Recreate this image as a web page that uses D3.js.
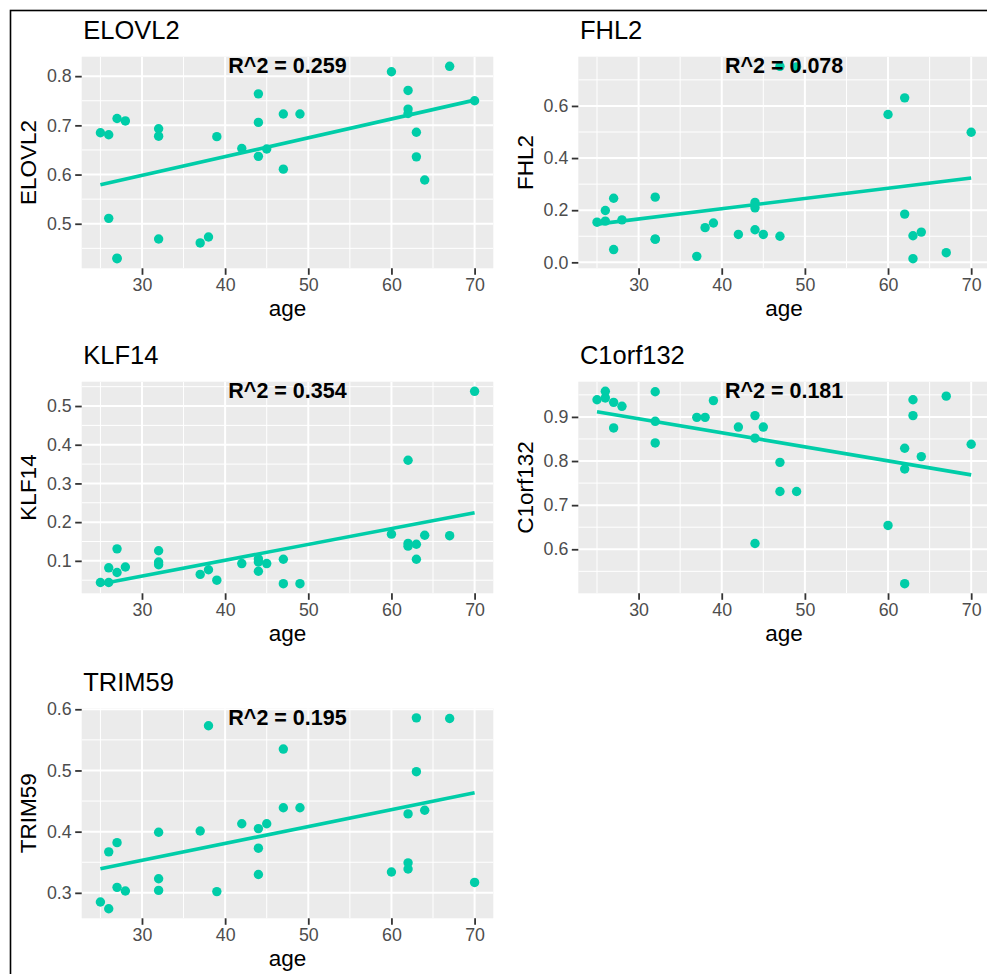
<!DOCTYPE html>
<html>
<head>
<meta charset="utf-8">
<script src="https://cdn.jsdelivr.net/npm/d3@7"></script>
<style>
  html, body { margin: 0; padding: 0; background: #fff; }
  svg { display: block; }
  text { font-family: "Liberation Sans", Arial, sans-serif; }
</style>
</head>
<body>
<script>
// ---------- data (null = no value for that sample) ----------
const age = [25,26,26,27,27,28,32,32,32,37,38,39,42,44,44,44,45,47,47,49,60,62,62,62,63,63,64,67,70,27];

const ELOVL2 = [0.685,0.681,0.511,0.714,0.429,0.709,0.693,0.678,0.469,0.461,0.473,0.677,0.653,0.764,0.706,0.637,0.652,0.723,0.611,0.723,0.809,0.771,0.733,0.724,0.686,0.636,0.589,0.820,0.750,0.430];
const FHL2 = [0.154,0.199,0.158,0.246,0.049,0.163,0.250,0.089,0.089,0.023,0.133,0.151,0.107,0.230,0.209,0.125,0.107,0.100,0.752,0.750,0.567,0.631,0.185,null,0.102,0.014,0.116,0.037,0.499,null];
const KLF14 = [0.044,0.082,0.044,0.131,0.070,0.084,0.126,0.097,0.090,0.065,0.077,0.050,0.093,0.105,0.097,0.073,0.093,0.104,0.041,0.041,0.169,0.360,0.145,0.138,0.143,0.104,0.166,0.165,0.538,null];
const C1orf132 = [0.939,0.958,0.943,0.933,0.875,0.924,0.957,0.890,0.841,0.899,0.899,0.937,0.877,0.903,0.852,0.613,0.877,0.797,0.731,0.731,0.654,0.829,0.782,0.522,0.939,0.903,0.810,0.947,0.838,null];
const TRIM59 = [0.285,0.367,0.274,0.382,0.309,0.303,0.399,0.323,0.304,0.401,0.573,0.302,0.413,0.405,0.373,0.330,0.413,0.535,0.439,0.439,0.334,0.429,0.349,0.339,0.586,0.498,0.435,0.585,0.317,null];

const genes = ["ELOVL2","FHL2","KLF14","C1orf132","TRIM59"];
const r2Labels = ["R^2 = 0.259","R^2 = 0.078","R^2 = 0.354","R^2 = 0.181","R^2 = 0.195"];
const xTicks = [30,40,50,60,70];
const yTicksELOVL2 = [0.5,0.6,0.7,0.8];
const yTicksFHL2 = [0.0,0.2,0.4,0.6];
const yTicksKLF14 = [0.1,0.2,0.3,0.4,0.5];
const yTicksC1orf132 = [0.6,0.7,0.8,0.9];
const yTicksTRIM59 = [0.3,0.4,0.5,0.6];

const values = [ELOVL2, FHL2, KLF14, C1orf132, TRIM59];
const yTicks = [yTicksELOVL2, yTicksFHL2, yTicksKLF14, yTicksC1orf132, yTicksTRIM59];

// ---------- layout ----------
const W = 987, H = 974;
const colLeft = [81.7, 578.3];
const rowTop = [56.7, 381.7, 708.3];
const rowH = [211.6, 211.6, 210];
const plotW = 411.6;
const teal = "#00CDA8";

const svg = d3.select("body").append("svg").attr("width", W).attr("height", H);
svg.append("rect").attr("width", W).attr("height", H).attr("fill", "#fff");

function expand(ext) { const d = ext[1]-ext[0]; return [ext[0]-0.05*d, ext[1]+0.05*d]; }

function minorBreaks(major, dom) {
  const step = major[1]-major[0];
  const out = [];
  for (let v = major[0]-step/2; v <= dom[1]+1e-9; v += step) {
    if (v >= dom[0] && v <= dom[1]) out.push(v);
  }
  return out;
}

genes.forEach((gene, i) => {
  const col = i % 2, row = Math.floor(i / 2);
  const left = colLeft[col], top = rowTop[row], h = rowH[row];
  const vals = values[i];
  const pts = age.map((a, k) => ({ a, v: vals[k] })).filter(d => d.v !== null);

  const x = d3.scaleLinear().domain(expand(d3.extent(pts, d => d.a))).range([0, plotW]);
  const y = d3.scaleLinear().domain(expand(d3.extent(pts, d => d.v))).range([h, 0]);

  const g = svg.append("g").attr("transform", `translate(${left},${top})`);

  // panel background
  g.append("rect").attr("width", plotW).attr("height", h).attr("fill", "#EBEBEB");

  const clipId = "clip" + i;
  g.append("clipPath").attr("id", clipId).append("rect").attr("width", plotW).attr("height", h);
  const inner = g.append("g").attr("clip-path", `url(#${clipId})`);

  // minor grid
  const xMinor = minorBreaks(xTicks, x.domain());
  const yMinor = minorBreaks(yTicks[i], y.domain());
  inner.selectAll(".xminor").data(xMinor).join("line")
    .attr("x1", d => x(d)).attr("x2", d => x(d)).attr("y1", 0).attr("y2", h)
    .attr("stroke", "#fff").attr("stroke-width", 1);
  inner.selectAll(".yminor").data(yMinor).join("line")
    .attr("y1", d => y(d)).attr("y2", d => y(d)).attr("x1", 0).attr("x2", plotW)
    .attr("stroke", "#fff").attr("stroke-width", 1);
  // major grid
  inner.selectAll(".xmajor").data(xTicks).join("line")
    .attr("x1", d => x(d)).attr("x2", d => x(d)).attr("y1", 0).attr("y2", h)
    .attr("stroke", "#fff").attr("stroke-width", 2);
  inner.selectAll(".ymajor").data(yTicks[i]).join("line")
    .attr("y1", d => y(d)).attr("y2", d => y(d)).attr("x1", 0).attr("x2", plotW)
    .attr("stroke", "#fff").attr("stroke-width", 2);

  // points
  inner.selectAll("circle").data(pts).join("circle")
    .attr("cx", d => x(d.a)).attr("cy", d => y(d.v)).attr("r", 4.7)
    .attr("fill", teal);

  // linear regression (least squares, like geom_smooth(method = "lm"))
  const mx = d3.mean(pts, d => d.a), my = d3.mean(pts, d => d.v);
  const sxy = d3.sum(pts, d => (d.a - mx) * (d.v - my));
  const sxx = d3.sum(pts, d => (d.a - mx) ** 2);
  const b = sxy / sxx, a0 = my - b * mx;
  const ext = d3.extent(pts, d => d.a);
  const fit = ext.map(t => ({ a: t, v: a0 + b * t }));
  inner.append("path").datum(fit)
    .attr("d", d3.line().x(d => x(d.a)).y(d => y(d.v)))
    .attr("stroke", teal).attr("stroke-width", 3.6).attr("fill", "none");

  // R^2 label at top (y = max value)
  const yMax = d3.max(pts, d => d.v);
  g.append("text").attr("x", plotW / 2).attr("y", y(yMax))
    .attr("text-anchor", "middle").attr("dominant-baseline", "central")
    .attr("font-weight", "bold").attr("font-size", 21.5).attr("fill", "#000")
    .text(r2Labels[i]);

  // axes
  const xAxis = d3.axisBottom(x).tickValues(xTicks).tickSize(6.5).tickPadding(4).tickFormat(d3.format("d"));
  const yAxis = d3.axisLeft(y).tickValues(yTicks[i]).tickSize(6.5).tickPadding(3.5).tickFormat(d3.format(".1f"));
  const gx = g.append("g").attr("transform", `translate(0,${h})`).call(xAxis);
  const gy = g.append("g").call(yAxis);
  [gx, gy].forEach(ax => {
    ax.select(".domain").remove();
    ax.selectAll(".tick line").attr("stroke", "#333333").attr("stroke-width", 1.8);
    ax.selectAll(".tick text").attr("fill", "#4D4D4D").attr("font-size", 17.8)
      .attr("font-family", "'Liberation Sans', Arial, sans-serif");
  });

  // axis titles
  g.append("text").attr("x", plotW / 2).attr("y", h + 47.7)
    .attr("text-anchor", "middle").attr("font-size", 22.5).attr("fill", "#000").text("age");
  g.append("text").attr("transform", `translate(-45.2,${h / 2}) rotate(-90)`)
    .attr("text-anchor", "middle").attr("font-size", 22.5).attr("fill", "#000").text(gene);

  // title
  g.append("text").attr("x", 1.6).attr("y", -17.6)
    .attr("font-size", 25.5).attr("fill", "#000").text(gene);
});

// outer frame
svg.append("rect").attr("x", 10.5).attr("y", 10.5).attr("width", 1200).attr("height", 1200)
  .attr("fill", "none").attr("stroke", "#000").attr("stroke-width", 1.6);
</script>
</body>
</html>
